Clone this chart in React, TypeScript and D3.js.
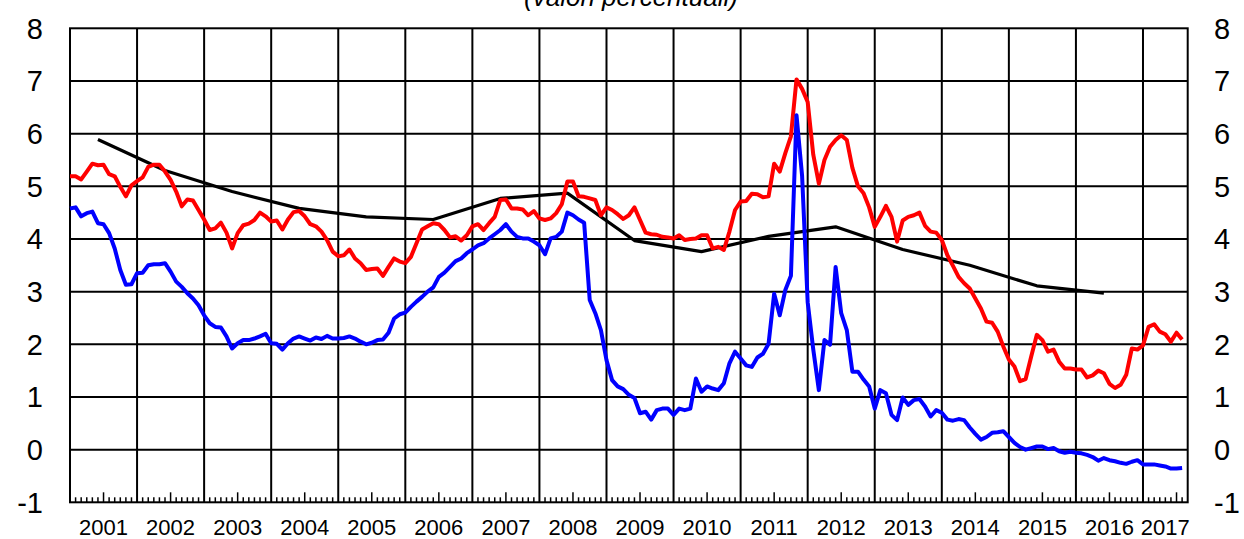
import * as d3 from "d3";

// monthly data, Jan 2001 .. Aug 2017 (values in %)
const redSeries = [
  5.19, 5.19, 5.13, 5.28, 5.43, 5.40, 5.41, 5.23, 5.19, 4.99, 4.81, 5.02,
  5.10, 5.17, 5.37, 5.41, 5.41, 5.28, 5.12, 4.90, 4.62, 4.75, 4.73, 4.55,
  4.37, 4.17, 4.20, 4.31, 4.12, 3.82, 4.11, 4.26, 4.29, 4.36, 4.50, 4.43,
  4.33, 4.35, 4.18, 4.37, 4.51, 4.53, 4.43, 4.28, 4.24, 4.14, 3.98, 3.76,
  3.67, 3.69, 3.80, 3.63, 3.54, 3.41, 3.43, 3.44, 3.30, 3.47, 3.63, 3.57,
  3.54, 3.66, 3.92, 4.18, 4.24, 4.30, 4.28, 4.17, 4.03, 4.05, 3.97, 4.07,
  4.24, 4.28, 4.17, 4.30, 4.42, 4.74, 4.75, 4.58, 4.58, 4.56, 4.45, 4.53,
  4.39, 4.36, 4.39, 4.49, 4.66, 5.09, 5.09, 4.81, 4.80, 4.77, 4.74, 4.45,
  4.60, 4.55, 4.47, 4.38, 4.45, 4.60, 4.36, 4.12, 4.09, 4.08, 4.04, 4.03,
  4.01, 4.07, 3.98, 4.00, 4.01, 4.07, 4.07, 3.82, 3.85, 3.79, 4.14, 4.55,
  4.71, 4.72, 4.86, 4.85, 4.79, 4.81, 5.43, 5.28, 5.63, 5.95, 7.03, 6.85,
  6.60, 5.60, 5.05, 5.50, 5.75, 5.88, 5.97, 5.88, 5.35, 5.00, 4.87, 4.60,
  4.23, 4.42, 4.63, 4.42, 3.95, 4.35, 4.42, 4.45, 4.50, 4.25, 4.14, 4.12,
  3.98, 3.69, 3.49, 3.28, 3.16, 3.06, 2.87, 2.68, 2.43, 2.41, 2.24, 1.96,
  1.71, 1.58, 1.30, 1.34, 1.77, 2.18, 2.08, 1.86, 1.90, 1.67, 1.54, 1.54,
  1.52, 1.52, 1.37, 1.41, 1.50, 1.45, 1.25, 1.17, 1.23, 1.42, 1.92, 1.90,
  1.98, 2.33, 2.38, 2.24, 2.19, 2.05, 2.22, 2.09,
];

const blueSeries = [
  4.58, 4.60, 4.43, 4.49, 4.52, 4.30, 4.28, 4.11, 3.82, 3.41, 3.13, 3.14,
  3.35, 3.36, 3.50, 3.52, 3.52, 3.54, 3.38, 3.19, 3.09, 2.97, 2.87, 2.74,
  2.55, 2.40, 2.33, 2.32, 2.15, 1.92, 2.02, 2.08, 2.08, 2.11, 2.15, 2.20,
  2.02, 2.01, 1.90, 2.02, 2.11, 2.15, 2.11, 2.07, 2.13, 2.10, 2.16, 2.11,
  2.11, 2.12, 2.15, 2.11, 2.05, 2.00, 2.03, 2.08, 2.09, 2.22, 2.49, 2.57,
  2.60, 2.71, 2.81, 2.90, 3.00, 3.08, 3.28, 3.36, 3.47, 3.58, 3.63, 3.73,
  3.80, 3.88, 3.92, 4.01, 4.09, 4.17, 4.28, 4.14, 4.04, 4.01, 4.01, 3.95,
  3.88, 3.71, 4.01, 4.04, 4.14, 4.50, 4.45, 4.37, 4.31, 2.84, 2.59, 2.27,
  1.70, 1.32, 1.20, 1.15, 1.04, 0.98, 0.69, 0.72, 0.57, 0.75, 0.78, 0.78,
  0.66, 0.78, 0.75, 0.78, 1.35, 1.10, 1.20, 1.16, 1.13, 1.26, 1.64, 1.86,
  1.73, 1.60, 1.57, 1.75, 1.82, 2.01, 2.96, 2.55, 3.03, 3.30, 6.35, 5.20,
  2.80, 1.90, 1.13, 2.08, 1.99, 3.47, 2.59, 2.27, 1.48, 1.48, 1.33, 1.20,
  0.78, 1.13, 1.07, 0.66, 0.56, 0.99, 0.85, 0.94, 0.96, 0.82, 0.63, 0.75,
  0.70, 0.57, 0.55, 0.58, 0.56, 0.42, 0.30, 0.19, 0.24, 0.32, 0.33, 0.35,
  0.24, 0.13, 0.05, 0.00, 0.03, 0.06, 0.06, 0.01, 0.03, -0.03, -0.06, -0.04,
  -0.06, -0.07, -0.10, -0.14, -0.21, -0.16, -0.20, -0.22, -0.25, -0.27, -0.23, -0.20,
  -0.28, -0.28, -0.28, -0.30, -0.32, -0.36, -0.36, -0.35,
];

// annual values 2001..2016, plotted in June of each year
const blackSeries = [5.89, 5.30, 4.90, 4.58, 4.42, 4.37, 4.77, 4.87, 3.97, 3.76, 4.05, 4.23, 3.80, 3.50, 3.11, 2.97];

const yearLabels = ["2001", "2002", "2003", "2004", "2005", "2006", "2007", "2008", "2009", "2010", "2011", "2012", "2013", "2014", "2015", "2016", "2017"];
const yTicks = [-1, 0, 1, 2, 3, 4, 5, 6, 7, 8];
const title = "(valori percentuali)";

const W = 1244;
const H = 539;
const nMonths = 200;
const font = "'Liberation Sans', Arial, sans-serif";

export default function App() {
  const x = d3.scaleLinear().domain([0, nMonths]).range([70, 1187.7]);
  const y = d3.scaleLinear().domain([-1, 8]).range([502.3, 28.3]);

  const monthly = d3.line<number>().x((_, i) => x(i)).y(d => y(d));
  const annual = d3.line<number>().x((_, k) => x(k * 12 + 5)).y(d => y(d));

  const [x0, x1] = x.range();
  const [yb, yt] = y.range();
  const monthTicks = d3.range(1, nMonths).filter(i => i % 12 !== 0);
  const yearLines = d3.range(12, nMonths, 12);

  return (
    <svg width={W} height={H} style={{ position: "absolute", left: 0, top: 0, display: "block", background: "#fff" }}>
      <text x={631} y={6} textAnchor="middle" fontFamily={font} fontStyle="italic" fontSize={26}>{title}</text>

      <g stroke="#000" strokeWidth={2} fill="none">
        {yTicks.slice(1, -1).map(t => (
          <line key={"h" + t} x1={x0} x2={x1} y1={y(t)} y2={y(t)} />
        ))}
        {yearLines.map(m => (
          <line key={"v" + m} x1={x(m)} x2={x(m)} y1={yt} y2={yb} />
        ))}
        {monthTicks.map(m => (
          <line key={"t" + m} x1={x(m)} x2={x(m)} y1={yb} y2={yb - (m % 12 === 6 ? 10 : 5)} strokeWidth={1.5} />
        ))}
        <rect x={x0} y={yt} width={x1 - x0} height={yb - yt} />
      </g>

      <path d={annual(blackSeries) ?? ""} fill="none" stroke="#000" strokeWidth={3.2} strokeLinejoin="round" />
      <path d={monthly(redSeries) ?? ""} fill="none" stroke="#ff0000" strokeWidth={4} strokeLinejoin="round" />
      <path d={monthly(blueSeries) ?? ""} fill="none" stroke="#0000ff" strokeWidth={4} strokeLinejoin="round" />

      <g fontFamily={font} fontSize={29} fill="#000">
        {yTicks.map(t => (
          <text key={"l" + t} x={43} y={y(t)} dy="0.36em" textAnchor="end">{t}</text>
        ))}
        {yTicks.map(t => (
          <text key={"r" + t} x={1214} y={y(t)} dy="0.36em" textAnchor="start">{t}</text>
        ))}
      </g>

      <g fontFamily={font} fontSize={22} fill="#000" textAnchor="middle">
        {yearLabels.map((lab, k) => (
          <text key={lab} x={x((k * 12 + Math.min((k + 1) * 12, nMonths)) / 2)} y={535}>{lab}</text>
        ))}
      </g>
    </svg>
  );
}
